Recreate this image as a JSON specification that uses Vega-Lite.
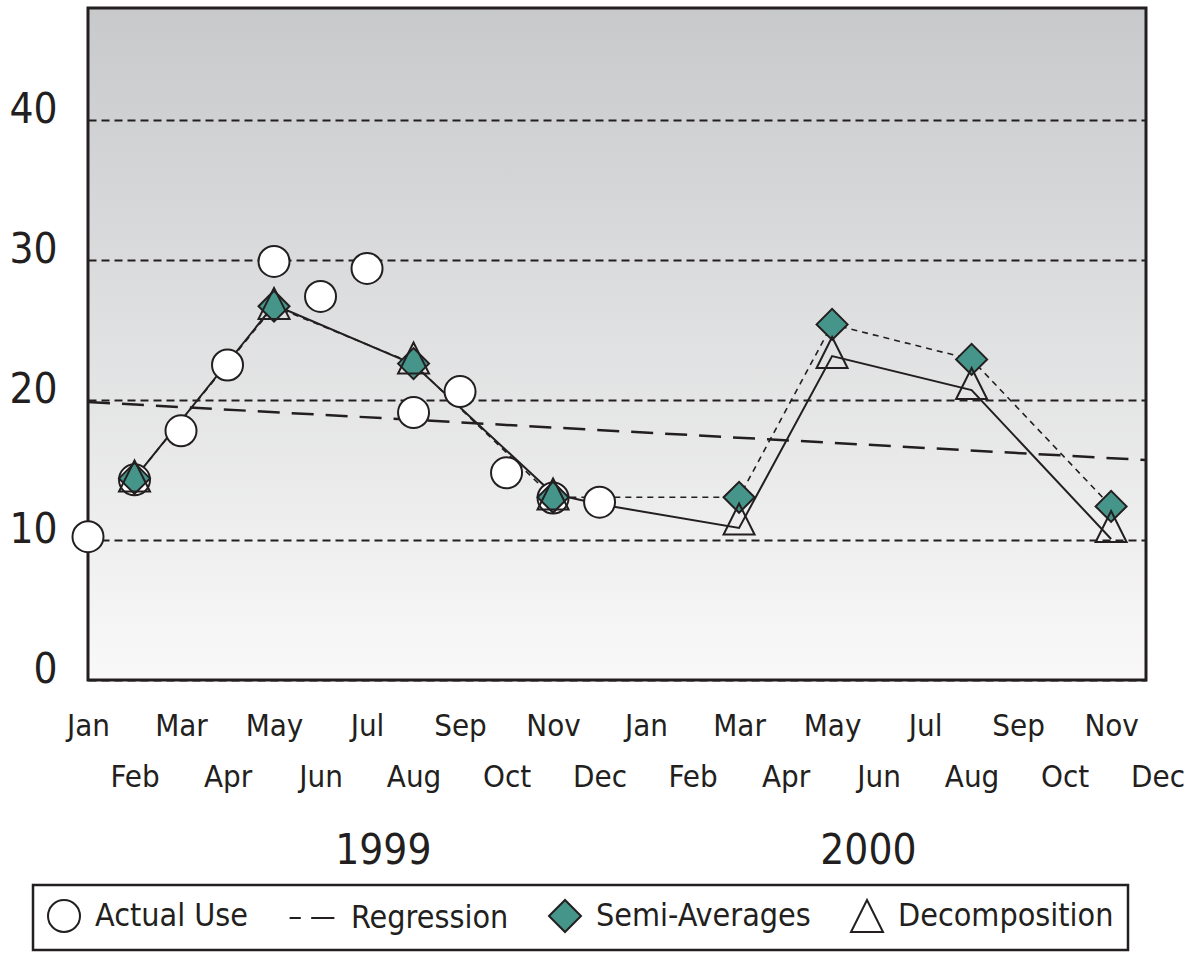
{
  "$schema": "https://vega.github.io/schema/vega-lite/v6.json",
  "autosize": {"type": "none"},
  "padding": {"left": 88, "top": 8, "right": 45, "bottom": 276},
  "width": 1058,
  "height": 672,
  "background": "white",
  "config": {
    "font": "DejaVu Sans Condensed",
    "view": {
      "stroke": "#231f20",
      "strokeWidth": 3,
      "fill": {
        "gradient": "linear",
        "x1": 0, "y1": 0, "x2": 0, "y2": 1,
        "stops": [
          {"offset": 0, "color": "#c8c9cb"},
          {"offset": 1, "color": "#f9f9f9"}
        ]
      }
    },
    "axis": {
      "labelColor": "#231f20",
      "labelFont": "DejaVu Sans Condensed",
      "domain": false,
      "ticks": false,
      "tickSize": 0,
      "title": null
    },
    "legend": {
      "orient": "none",
      "legendX": -55,
      "legendY": 877,
      "direction": "horizontal",
      "labelFontSize": 32,
      "labelFont": "DejaVu Sans Condensed",
      "labelColor": "#231f20",
      "labelLimit": 400,
      "labelOffset": 14,
      "columnPadding": 36,
      "symbolSize": 1024,
      "symbolStrokeWidth": 2,
      "strokeColor": "#231f20",
      "strokeWidth": 2.5,
      "padding": 14
    }
  },
  "datasets": {
    "regression": [
      {"month": 0, "value": 19.86},
      {"month": 22.75, "value": 15.71}
    ],
    "lines": [
      {"series": "Semi-Averages", "month": 1, "value": 14.4},
      {"series": "Semi-Averages", "month": 4, "value": 26.7},
      {"series": "Semi-Averages", "month": 7, "value": 22.6},
      {"series": "Semi-Averages", "month": 10, "value": 13.05},
      {"series": "Semi-Averages", "month": 14, "value": 13.05},
      {"series": "Semi-Averages", "month": 16, "value": 25.4},
      {"series": "Semi-Averages", "month": 19, "value": 22.9},
      {"series": "Semi-Averages", "month": 22, "value": 12.4},
      {"series": "Decomposition", "month": 1, "value": 14.4},
      {"series": "Decomposition", "month": 4, "value": 26.8},
      {"series": "Decomposition", "month": 7, "value": 22.55},
      {"series": "Decomposition", "month": 10, "value": 13.3},
      {"series": "Decomposition", "month": 11, "value": 12.55},
      {"series": "Decomposition", "month": 14, "value": 10.86},
      {"series": "Decomposition", "month": 16, "value": 23.14},
      {"series": "Decomposition", "month": 19, "value": 20.71},
      {"series": "Decomposition", "month": 22, "value": 10.07}
    ],
    "points": [
      {"series": "Actual Use", "month": 0, "value": 10.24},
      {"series": "Actual Use", "month": 1, "value": 14.3},
      {"series": "Actual Use", "month": 2, "value": 17.8},
      {"series": "Actual Use", "month": 3, "value": 22.5},
      {"series": "Actual Use", "month": 4, "value": 29.9},
      {"series": "Actual Use", "month": 5, "value": 27.4},
      {"series": "Actual Use", "month": 6, "value": 29.4},
      {"series": "Actual Use", "month": 7, "value": 19.1},
      {"series": "Actual Use", "month": 8, "value": 20.6},
      {"series": "Actual Use", "month": 9, "value": 14.8},
      {"series": "Actual Use", "month": 10, "value": 13.0},
      {"series": "Actual Use", "month": 11, "value": 12.7},
      {"series": "Semi-Averages", "month": 1, "value": 14.4},
      {"series": "Semi-Averages", "month": 4, "value": 26.7},
      {"series": "Semi-Averages", "month": 7, "value": 22.6},
      {"series": "Semi-Averages", "month": 10, "value": 13.05},
      {"series": "Semi-Averages", "month": 14, "value": 13.05},
      {"series": "Semi-Averages", "month": 16, "value": 25.4},
      {"series": "Semi-Averages", "month": 19, "value": 22.9},
      {"series": "Semi-Averages", "month": 22, "value": 12.4},
      {"series": "Decomposition", "month": 1, "value": 14.57},
      {"series": "Decomposition", "month": 4, "value": 26.9},
      {"series": "Decomposition", "month": 7, "value": 23.0},
      {"series": "Decomposition", "month": 10, "value": 13.29},
      {"series": "Decomposition", "month": 14, "value": 11.5},
      {"series": "Decomposition", "month": 16, "value": 23.39},
      {"series": "Decomposition", "month": 19, "value": 21.18},
      {"series": "Decomposition", "month": 22, "value": 10.96}
    ]
  },
  "resolve": {"axis": {"x": "independent"}},
  "layer": [
    {
      "data": {"name": "regression"},
      "mark": {"type": "line", "color": "#231f20", "strokeWidth": 2.5, "strokeDash": [22, 12]},
      "encoding": {
        "x": {
          "field": "month", "type": "quantitative",
          "scale": {"domain": [0, 22.75], "nice": false, "zero": false},
          "axis": {
            "orient": "bottom",
            "values": [6.34, 16.77],
            "labelExpr": "datum.value < 12 ? '1999' : '2000'",
            "labelFontSize": 42,
            "labelPadding": 183,
            "labelBaseline": "alphabetic",
            "labelOverlap": false,
            "labelBound": false,
            "labelFlush": false,
            "grid": false,
            "domain": false,
            "ticks": false,
            "title": null
          }
        },
        "y": {
          "field": "value", "type": "quantitative",
          "scale": {"domain": [0, 48], "nice": false, "zero": true},
          "axis": {
            "values": [0, 10, 20, 30, 40],
            "grid": true,
            "gridDash": [8, 5],
            "gridColor": "#231f20",
            "gridWidth": 1.8,
            "labelFontSize": 42,
            "labelPadding": 31,
            "labelBaseline": "alphabetic",
            "labelOffset": 2,
            "domain": false,
            "ticks": false,
            "title": null
          }
        }
      }
    },
    {
      "data": {"name": "lines"},
      "transform": [{"filter": "datum.series == 'Semi-Averages'"}],
      "mark": {"type": "line", "color": "#231f20", "strokeWidth": 1.6, "strokeDash": [6, 5]},
      "encoding": {
        "x": {"field": "month", "type": "quantitative", "axis": null},
        "y": {"field": "value", "type": "quantitative"}
      }
    },
    {
      "data": {"name": "lines"},
      "transform": [{"filter": "datum.series == 'Decomposition'"}],
      "mark": {"type": "line", "color": "#231f20", "strokeWidth": 2},
      "encoding": {
        "x": {"field": "month", "type": "quantitative", "axis": null},
        "y": {"field": "value", "type": "quantitative"}
      }
    },
    {
      "data": {"name": "points"},
      "mark": {"type": "point", "filled": true, "size": 961, "strokeWidth": 2, "opacity": 1, "fillOpacity": 1},
      "encoding": {
        "x": {
          "field": "month", "type": "quantitative",
          "axis": {
            "orient": "bottom",
            "values": [0,1,2,3,4,5,6,7,8,9,10,11,12,13,14,15,16,17,18,19,20,21,22,22.75],
            "labelExpr": "datum.value > 22.5 ? ['', 'Dec'] : datum.value % 2 == 0 ? [['Jan','Feb','Mar','Apr','May','Jun','Jul','Aug','Sep','Oct','Nov','Dec'][datum.value % 12]] : ['', ['Jan','Feb','Mar','Apr','May','Jun','Jul','Aug','Sep','Oct','Nov','Dec'][datum.value % 12]]",
            "labelFontSize": 31,
            "labelPadding": 55,
            "labelOffset": {"condition": {"test": "datum.value > 22.5", "value": 11.6}, "value": 0},
            "labelBaseline": "alphabetic",
            "labelLineHeight": 51,
            "labelOverlap": false,
            "labelBound": false,
            "labelFlush": false,
            "grid": false,
            "domain": false,
            "ticks": false,
            "title": null
          }
        },
        "y": {"field": "value", "type": "quantitative"},
        "shape": {
          "field": "series", "type": "nominal",
          "scale": {
            "domain": ["Actual Use", "Regression", "Semi-Averages", "Decomposition"],
            "range": ["circle", "M-1.9,0L-1.2,0M-0.55,0L0.9,0", "diamond", "M0,-1L1,1L-1,1Z"]
          },
          "legend": {"title": null}
        },
        "fill": {
          "field": "series", "type": "nominal",
          "scale": {
            "domain": ["Actual Use", "Regression", "Semi-Averages", "Decomposition"],
            "range": ["#ffffff", "transparent", "#46958a", "transparent"]
          },
          "legend": {"title": null}
        },
        "stroke": {
          "field": "series", "type": "nominal",
          "scale": {
            "domain": ["Actual Use", "Regression", "Semi-Averages", "Decomposition"],
            "range": ["#231f20", "#231f20", "#231f20", "#231f20"]
          },
          "legend": {"title": null}
        }
      }
    }
  ]
}
